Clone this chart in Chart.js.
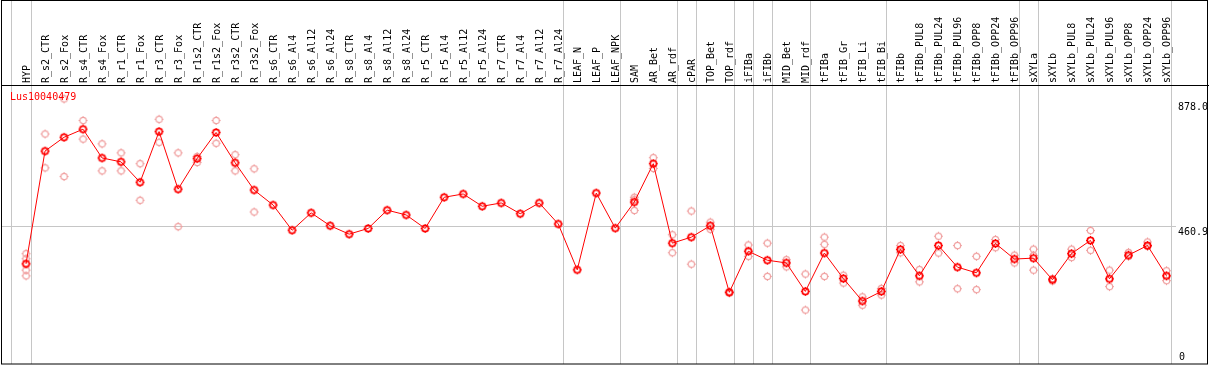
<!DOCTYPE html>
<html>
<head>
<meta charset="utf-8">
<script src="https://cdn.jsdelivr.net/npm/chart.js@4/dist/chart.umd.min.js"></script>
<style>
  html, body { margin: 0; padding: 0; background: #fff; }
  #chart { display: block; }
</style>
</head>
<body>
<canvas id="chart" width="1209" height="370"></canvas>
<script>
// sample groups (x axis, top)
const categories = [
  'HYP', 'R_s2_CTR', 'R_s2_Fox', 'R_s4_CTR', 'R_s4_Fox', 'R_r1_CTR', 'R_r1_Fox',
  'R_r3_CTR', 'R_r3_Fox', 'R_r1s2_CTR', 'R_r1s2_Fox', 'R_r3s2_CTR', 'R_r3s2_Fox',
  'R_s6_CTR', 'R_s6_Al4', 'R_s6_Al12', 'R_s6_Al24', 'R_s8_CTR', 'R_s8_Al4', 'R_s8_Al12',
  'R_s8_Al24', 'R_r5_CTR', 'R_r5_Al4', 'R_r5_Al12', 'R_r5_Al24', 'R_r7_CTR', 'R_r7_Al4',
  'R_r7_Al12', 'R_r7_Al24', 'LEAF_N', 'LEAF_P', 'LEAF_NPK', 'SAM', 'AR_Bet', 'AR_rdf',
  'cPAR', 'TOP_Bet', 'TOP_rdf', 'iFIBa', 'iFIBb', 'MID_Bet', 'MID_rdf', 'tFIBa',
  'tFIB_Gr', 'tFIB_Li', 'tFIB_Bi', 'tFIBb', 'tFIBb_PUL8', 'tFIBb_PUL24', 'tFIBb_PUL96',
  'tFIBb_OPP8', 'tFIBb_OPP24', 'tFIBb_OPP96', 'sXYLa', 'sXYLb', 'sXYLb_PUL8',
  'sXYLb_PUL24', 'sXYLb_PUL96', 'sXYLb_OPP8', 'sXYLb_OPP24', 'sXYLb_OPP96'
];

// mean expression per group (red line)
const meanValues = [
  334, 710, 756, 783, 687, 674, 606, 775, 583, 685, 772, 671, 580,
  530, 446, 504, 461, 433, 452, 513, 497, 452, 556, 567, 526, 537, 501, 537, 467,
  314, 570, 453, 540, 668, 403, 423, 461, 239, 376, 346, 337, 242, 370,
  285, 210, 242, 382, 294, 395, 323, 304, 402, 350, 353, 281, 368,
  412, 284, 363, 395, 294
];

// individual replicates (pink circles), null where there is none
const rep1 = [
  368, 767, 884, 812, 734, 704, 668, 816, 704, 692, 812, 698, 651,
  null, null, null, null, null, null, null, null, null, null, null, null, null, null, null, null,
  null, null, null, 556, 688, 431, 510, 473, 241, 397, 403, 348, 300, 423,
  296, 224, 252, 395, 315, 426, 395, 359, 415, 363, 383, 285, 383,
  445, 313, 372, 407, 311
];
const rep2 = [
  351, 654, 625, 750, 644, 644, 546, 739, 458, 672, 736, 644, 507,
  null, null, null, null, null, null, null, null, null, null, null, null, null, null, null, null,
  null, null, null, 548, 652, 371, 333, 449, 237, 359, 292, 324, 180, 399,
  270, 196, 230, 371, 274, 370, 251, 248, 388, 337, 362, 277, 355,
  379, 258, 359, 392, 278
];
const rep3 = [
  313, null, null, null, null, null, null, null, null, null, null, null, null,
  null, null, null, null, null, null, null, null, null, null, null, null, null, null, null, null,
  null, null, null, 512, null, null, null, null, null, null, null, null, null, 292,
  null, null, null, null, null, null, null, null, null, null, 313, null, null,
  null, null, null, null, null
];
const rep4 = [294];

// grey separators drawn right of these group indexes
const groupEnds = [-1, 0, 28, 31, 34, 35, 37, 38, 39, 41, 45, 52, 53, 60];
const yTicks = [0, 460.9, 878.0];
const geneName = 'Lus10040479';

const RED = '#ff0000';
const PINK = 'rgb(240,160,160)';
const GREY = '#c6c6c6';
const MONO = '"DejaVu Sans Mono", "Liberation Mono", monospace';

function makeMarker(color, lw) {
  const c = document.createElement('canvas');
  c.width = 11;
  c.height = 11;
  const g = c.getContext('2d');
  g.strokeStyle = color;
  g.lineWidth = lw;
  g.beginPath();
  g.arc(5.5, 5.5, 3.2, 0, Math.PI * 2);
  g.stroke();
  g.fillStyle = color;
  g.fillRect(5, 1, 1, 1);
  g.fillRect(5, 9, 1, 1);
  g.fillRect(1, 5, 1, 1);
  g.fillRect(9, 5, 1, 1);
  return c;
}

const meanMarker = makeMarker(RED, 1.7);
const repMarker = makeMarker(PINK, 1.2);

function repDataset(values) {
  return {
    data: categories.map((c, i) => ({ x: c, y: values[i] == null ? null : values[i] })),
    showLine: false,
    pointStyle: repMarker,
    pointRadius: 5,
    order: 2
  };
}

const framePlugin = {
  id: 'frame',
  beforeDraw(chart) {
    const { ctx, chartArea, scales } = chart;
    const x = scales.x, y = scales.y;
    const step = x.getPixelForValue(1) - x.getPixelForValue(0);
    ctx.save();
    ctx.strokeStyle = GREY;
    ctx.lineWidth = 1;
    // group separators, full height
    groupEnds.forEach(i => {
      const px = Math.round(x.getPixelForValue(0) + i * step + 4.5) + 0.5;
      ctx.beginPath();
      ctx.moveTo(px, 0);
      ctx.lineTo(px, chartArea.bottom);
      ctx.stroke();
    });
    // mid reference line
    const gy = Math.round(y.getPixelForValue(yTicks[1])) + 0.5;
    ctx.beginPath();
    ctx.moveTo(1, gy);
    ctx.lineTo(chartArea.right, gy);
    ctx.stroke();
    ctx.restore();
  },
  afterDraw(chart) {
    const { ctx, chartArea, scales, width } = chart;
    const y = scales.y;
    ctx.save();
    // black frame and header rule
    ctx.strokeStyle = '#000';
    ctx.lineWidth = 1;
    ctx.strokeRect(1.5, 0.5, width - 3, chartArea.bottom - 0.5);
    ctx.beginPath();
    ctx.moveTo(1, chartArea.top + 0.5);
    ctx.lineTo(width, chartArea.top + 0.5);
    ctx.stroke();
    // right value labels
    ctx.font = '10px ' + MONO;
    ctx.fillStyle = '#000';
    ctx.textAlign = 'left';
    yTicks.forEach(v => {
      const py = y.getPixelForValue(v);
      if (v === 0) {
        ctx.textBaseline = 'bottom';
        ctx.fillText('0', chartArea.right + 3, py - 2);
      } else {
        ctx.textBaseline = 'top';
        ctx.fillText(v.toFixed(1), chartArea.right + 2, py + 2);
      }
    });
    // gene name
    ctx.fillStyle = RED;
    ctx.textBaseline = 'middle';
    ctx.fillText(geneName, 10, chartArea.top + 12);
    ctx.restore();
  }
};

new Chart(document.getElementById('chart'), {
  type: 'line',
  data: {
    labels: categories,
    datasets: [
      {
        data: meanValues,
        borderColor: RED,
        borderWidth: 1,
        pointStyle: meanMarker,
        pointRadius: 5,
        tension: 0,
        order: 0
      },
      repDataset(rep1),
      repDataset(rep2),
      repDataset(rep3),
      repDataset(rep4)
    ]
  },
  options: {
    responsive: false,
    animation: false,
    devicePixelRatio: 1,
    layout: { padding: { left: 16.5, right: 33, top: 0, bottom: 1 } },
    plugins: {
      legend: { display: false },
      tooltip: { enabled: false }
    },
    scales: {
      x: {
        type: 'category',
        position: 'top',
        offset: true,
        grid: { display: false, drawTicks: false },
        border: { display: false },
        ticks: {
          autoSkip: false,
          minRotation: 90,
          maxRotation: 90,
          padding: 2,
          labelOffset: 13,
          color: '#000',
          font: { family: MONO, size: 10 }
        },
        afterFit: s => { s.height = 85; }
      },
      y: {
        position: 'right',
        min: 0,
        max: 930.3,
        grid: { display: false },
        border: { display: false },
        ticks: { display: false },
        afterFit: s => { s.width = 0; }
      }
    }
  },
  plugins: [framePlugin]
});
</script>
</body>
</html>
